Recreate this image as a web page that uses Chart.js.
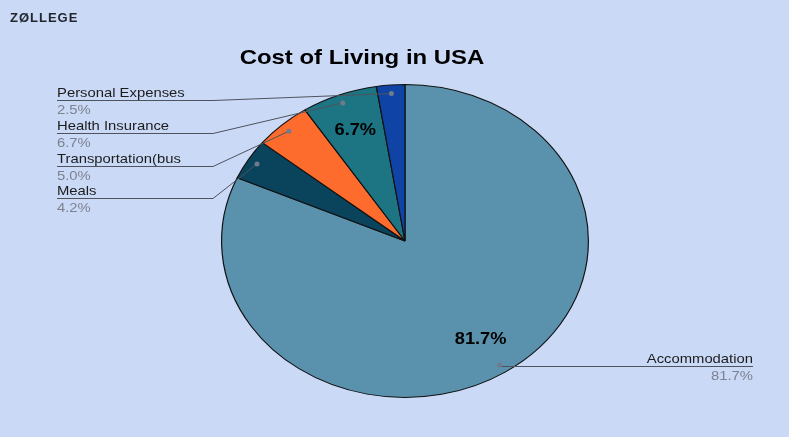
<!DOCTYPE html>
<html>
<head>
<meta charset="utf-8">
<script src="https://cdn.jsdelivr.net/npm/chart.js@4"></script>
<style>
  html, body { margin: 0; padding: 0; background: #cad9f6; }
  canvas { display: block; }
</style>
</head>
<body>
<canvas id="chart" width="789" height="437"></canvas>
<script>
// Chart data
const categories = ['Accommodation', 'Meals', 'Transportation(bus', 'Health Insurance', 'Personal Expenses'];
const shares = [81.7, 4.2, 5.0, 6.7, 2.5];
const sliceColors = ['#5a92ae', '#09435c', '#fe6c2d', '#1d7482', '#0f44a6'];
const chartTitle = 'Cost of Living in USA';

// The reference picture is stretched sideways: pie and text alike
const STRETCH = 184 / 157;
const TEXT_SX = 1.14;

// Where each outside label sits: underline y and side
const labelSpots = [
  { y: 366, side: 'right' },
  { y: 198, side: 'left' },
  { y: 166, side: 'left' },
  { y: 133, side: 'left' },
  { y: 100, side: 'left' }
];

// Point at a given fraction of the radius along the slice middle, after stretch
function slicePoint(arc, frac) {
  const mid = (arc.startAngle + arc.endAngle) / 2;
  const r = arc.outerRadius * frac;
  return {
    x: arc.x + Math.cos(mid) * r * STRETCH,
    y: arc.y + Math.sin(mid) * r
  };
}

// Draw text squeezed out horizontally like the reference
function wideText(ctx, text, x, y, align, baseline) {
  ctx.save();
  ctx.translate(x, y);
  ctx.scale(TEXT_SX, 1);
  ctx.textAlign = align || 'left';
  ctx.textBaseline = baseline || 'alphabetic';
  ctx.fillText(text, 0, 0);
  ctx.restore();
}

const stretchPlugin = {
  id: 'stretch',
  beforeDatasetsDraw(chart) {
    const arc = chart.getDatasetMeta(0).data[0];
    const ctx = chart.ctx;
    ctx.save();
    ctx.translate(arc.x, arc.y);
    ctx.scale(STRETCH, 1);
    ctx.translate(-arc.x, -arc.y);
  },
  afterDatasetsDraw(chart) {
    chart.ctx.restore();
  }
};

const labelPlugin = {
  id: 'pieLabels',
  afterDraw(chart) {
    const ctx = chart.ctx;
    const arcs = chart.getDatasetMeta(0).data;

    // logo
    ctx.save();
    ctx.fillStyle = '#22262e';
    ctx.font = 'bold 13px "Liberation Sans", Arial, sans-serif';
    ctx.letterSpacing = '1px';
    ctx.textBaseline = 'alphabetic';
    ctx.fillText('ZØLLEGE', 10, 22);
    ctx.restore();

    // title
    ctx.save();
    ctx.fillStyle = '#000';
    ctx.font = 'bold 21px "Liberation Sans", Arial, sans-serif';
    wideText(ctx, chartTitle, 362, 64, 'center');
    ctx.restore();

    arcs.forEach((arc, i) => {
      const spot = labelSpots[i];
      const dot = slicePoint(arc, 0.945);

      // leader line
      ctx.save();
      ctx.strokeStyle = '#4f535c';
      ctx.lineWidth = 1;
      ctx.beginPath();
      if (spot.side === 'left') {
        ctx.moveTo(57, spot.y + 0.5);
        ctx.lineTo(213, spot.y + 0.5);
        ctx.lineTo(dot.x, dot.y);
      } else {
        ctx.moveTo(dot.x, spot.y + 0.5);
        ctx.lineTo(753, spot.y + 0.5);
      }
      ctx.stroke();

      ctx.fillStyle = '#6f7c8c';
      ctx.beginPath();
      ctx.arc(dot.x, dot.y, 2.5, 0, Math.PI * 2);
      ctx.fill();

      // texts
      ctx.font = '13px "Liberation Sans", Arial, sans-serif';
      const tx = spot.side === 'left' ? 57 : 753;
      const align = spot.side === 'left' ? 'left' : 'right';
      ctx.fillStyle = '#1c1c1c';
      wideText(ctx, categories[i], tx, spot.y - 3, align);
      ctx.fillStyle = '#7c8290';
      wideText(ctx, shares[i].toFixed(1) + '%', tx, spot.y + 14, align);
      ctx.restore();

      // inside value for bigger slices
      if (shares[i] > 5) {
        const p = slicePoint(arc, 0.755);
        ctx.save();
        ctx.fillStyle = '#000';
        ctx.font = 'bold 16px "Liberation Sans", Arial, sans-serif';
        wideText(ctx, shares[i].toFixed(1) + '%', p.x, p.y, 'center', 'middle');
        ctx.restore();
      }
    });
  }
};

new Chart(document.getElementById('chart'), {
  type: 'pie',
  data: {
    labels: categories,
    datasets: [{
      data: shares,
      backgroundColor: sliceColors,
      borderColor: '#111',
      borderWidth: 1
    }]
  },
  options: {
    responsive: false,
    animation: false,
    layout: { padding: { top: 84, bottom: 39, left: 21, right: 0 } },
    plugins: {
      legend: { display: false },
      tooltip: { enabled: false },
      title: { display: false }
    }
  },
  plugins: [stretchPlugin, labelPlugin]
});
</script>
</body>
</html>
